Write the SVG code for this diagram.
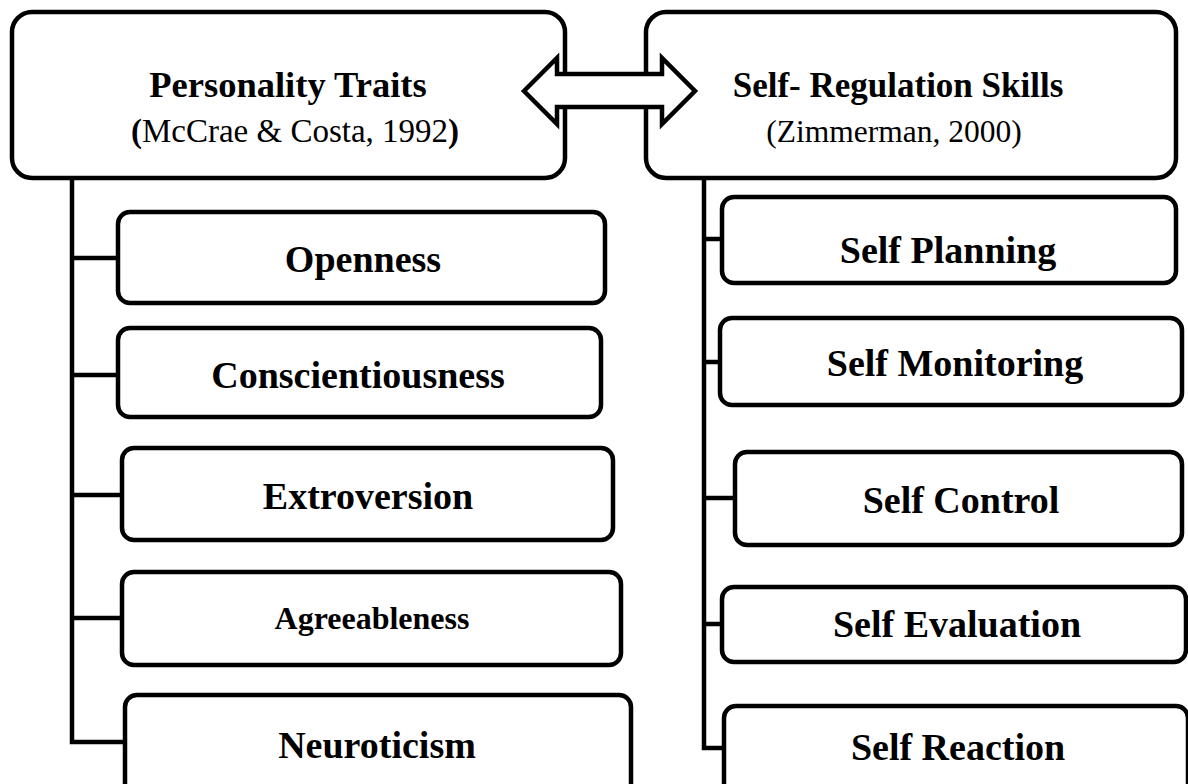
<svg xmlns="http://www.w3.org/2000/svg" width="1188" height="784" viewBox="0 0 1188 784">
  <style>
    .box { fill: #ffffff; stroke: #000000; stroke-width: 4.5; }
    .wire { fill: none; stroke: #000000; stroke-width: 4.5; stroke-linejoin: miter; }
    .title { font-family: "Liberation Serif", "Times New Roman", serif; font-weight: bold; font-size: 36.5px; text-anchor: middle; fill: #000; }
    .cite { font-family: "Liberation Serif", "Times New Roman", serif; font-size: 33px; text-anchor: middle; fill: #000; }
    .item { font-family: "Liberation Serif", "Times New Roman", serif; font-weight: bold; font-size: 38px; text-anchor: middle; fill: #000; }
    .small { font-size: 32px; }
    .b { font-weight: bold; }
  </style>

  <!-- tree connectors -->
  <g id="connectors">
    <path class="wire" d="M72 178 V742 H125"/>
    <path class="wire" d="M72 258 H118 M72 375 H118 M72 495 H122 M72 618 H122"/>
    <path class="wire" d="M704 178 V748 H724"/>
    <path class="wire" d="M704 239 H722 M704 362 H720 M704 498 H735 M704 624 H722"/>
  </g>

  <g id="personality-traits">
    <rect class="box" x="12" y="12" width="553" height="166" rx="20"/>
    <text class="title" x="288" y="97">Personality Traits</text>
    <text class="cite" x="295" y="142"><tspan class="b">(</tspan>McCrae &amp; Costa, 1992<tspan class="b">)</tspan></text>
  </g>

  <g id="self-regulation-skills">
    <rect class="box" x="646" y="12" width="530" height="166" rx="20"/>
    <text class="title" x="898" y="97" style="font-size:35px">Self- Regulation Skills</text>
    <text class="cite" x="894" y="142" style="font-size:31.5px">(Zimmerman, 2000)</text>
  </g>

  <g id="openness">
    <rect class="box" x="118" y="212" width="487" height="91" rx="12"/>
    <text class="item" x="363" y="272">Openness</text>
  </g>
  <g id="conscientiousness">
    <rect class="box" x="118" y="328" width="483" height="89" rx="12"/>
    <text class="item" x="358" y="388">Conscientiousness</text>
  </g>
  <g id="extroversion">
    <rect class="box" x="122" y="448" width="491" height="92" rx="12"/>
    <text class="item" x="368" y="509">Extroversion</text>
  </g>
  <g id="agreeableness">
    <rect class="box" x="122" y="572" width="499" height="93" rx="12"/>
    <text class="item small" x="372" y="629">Agreeableness</text>
  </g>
  <g id="neuroticism">
    <rect class="box" x="125" y="695" width="506" height="100" rx="12"/>
    <text class="item" x="377" y="758">Neuroticism</text>
  </g>

  <g id="self-planning">
    <rect class="box" x="722" y="197" width="454" height="86" rx="12"/>
    <text class="item" x="948" y="263">Self Planning</text>
  </g>
  <g id="self-monitoring">
    <rect class="box" x="720" y="318" width="462" height="87" rx="12"/>
    <text class="item" x="955" y="376">Self Monitoring</text>
  </g>
  <g id="self-control">
    <rect class="box" x="735" y="452" width="447" height="93" rx="12"/>
    <text class="item" x="961" y="513">Self Control</text>
  </g>
  <g id="self-evaluation">
    <rect class="box" x="722" y="587" width="464" height="75" rx="12"/>
    <text class="item" x="957" y="637">Self Evaluation</text>
  </g>
  <g id="self-reaction">
    <rect class="box" x="724" y="706" width="464" height="90" rx="12"/>
    <text class="item" x="958" y="760">Self Reaction</text>
  </g>

  <!-- two-way link between the two constructs -->
  <g id="link">
    <polygon class="box" points="524,91 557,58 557,74 662,74 662,58 695,91 662,124 662,107 557,107 557,124"/>
  </g>
</svg>
